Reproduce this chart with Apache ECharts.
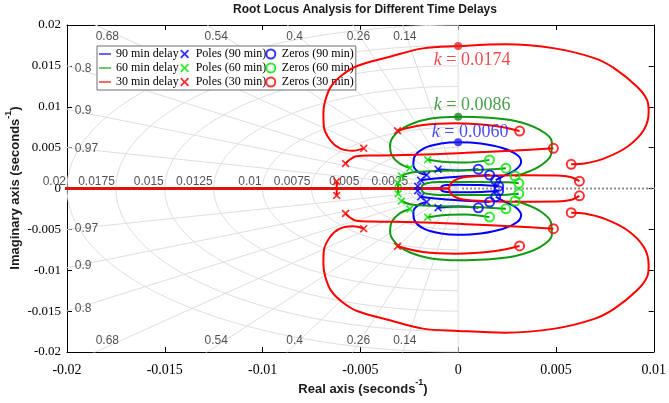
<!DOCTYPE html>
<html>
<head>
<meta charset="utf-8">
<script src="https://cdn.jsdelivr.net/npm/echarts@6/dist/echarts.min.js"></script>
<style>
  html, body { margin: 0; padding: 0; background: #ffffff; }
  #chart { width: 669px; height: 403px; }
</style>
</head>
<body>
<div id="chart"></div>
<script>
// ---------- data (units: seconds^-1, upper half-plane; conjugates are mirrored) ----------
const xTicks = [-0.02, -0.015, -0.01, -0.005, 0, 0.005, 0.01];
const yTicks = [-0.02, -0.015, -0.01, -0.005, 0, 0.005, 0.01, 0.015, 0.02];

// s-plane grid: damping ratios and natural frequencies
const dampingRatios = [0.14, 0.26, 0.4, 0.54, 0.68, 0.8, 0.9, 0.97];
const naturalFreqs = [0.0025, 0.005, 0.0075, 0.01, 0.0125, 0.015, 0.0175, 0.02];
const freqLabels = ['0.0025', '0.005', '0.0075', '0.01', '0.0125', '0.015', '0.0175', '0.02'];

// 30 min delay
const poles30 = [[-0.00621, 0.00085], [-0.00576, 0.00306], [-0.00483, 0.00491], [-0.00310, 0.00707]];
const zeros30 = [[0.00620, 0.00090], [0.00578, 0.00296], [0.00487, 0.00491], [0.00314, 0.00703]];
const loop30 = [[-0.00483, 0.00491], [-0.00537, 0.00462], [-0.00605, 0.00491], [-0.00655, 0.00593],
  [-0.00687, 0.00764], [-0.00689, 0.00923], [-0.00679, 0.01082], [-0.00649, 0.01253], [-0.00593, 0.01388],
  [-0.00517, 0.01498], [-0.00349, 0.01611], [-0.00180, 0.01714], [0, 0.01742], [0.00241, 0.01763],
  [0.00494, 0.01714], [0.00696, 0.01595], [0.00797, 0.01473], [0.00915, 0.01245], [0.00966, 0.01082],
  [0.00974, 0.00935], [0.00949, 0.00715], [0.00865, 0.00511], [0.00747, 0.00369], [0.00646, 0.00306],
  [0.00578, 0.00296]];
const branchA30 = [[-0.00576, 0.00306], [-0.00553, 0.00355], [-0.00521, 0.00394], [-0.00441, 0.00403],
  [-0.00214, 0.00412], [0.00039, 0.00436], [0.00292, 0.00465], [0.00487, 0.00491]];
const branchB30 = [[-0.00310, 0.00707], [-0.00180, 0.00776], [-0.00012, 0.00797], [0.00191, 0.00764], [0.00314, 0.00703]];
const breakIn30 = [[-0.00621, 0.00085], [-0.00621, 0]];
const realAxis30 = [[-0.0212, 0], [-0.00047, 0]];
const nearOrigin30 = [[-0.00047, 0], [-0.00039, 0.00055], [-0.00019, 0.00100], [0.00024, 0.00135],
  [0.00140, 0.00155], [0.00342, 0.00161], [0.00504, 0.00159], [0.00575, 0.00141], [0.00620, 0.00090]];

// 60 min delay
const poles60 = [[-0.00307, 0.00064], [-0.00290, 0.00153], [-0.00247, 0.00251], [-0.00156, 0.00351]];
const zeros60 = [[0.00310, 0.00064], [0.00291, 0.00153], [0.00244, 0.00249], [0.00160, 0.00350]];
const loop60 = [[-0.00247, 0.00251], [-0.00300, 0.00306], [-0.00340, 0.00410], [-0.00348, 0.00532],
  [-0.00315, 0.00678], [-0.00239, 0.00789], [-0.00138, 0.00856], [0, 0.00878], [0.00140, 0.00868],
  [0.00292, 0.00825], [0.00418, 0.00716], [0.00479, 0.00569], [0.00474, 0.00410], [0.00418, 0.00275],
  [0.00342, 0.00189], [0.00291, 0.00153]];
const branchA60 = [[-0.00290, 0.00153], [-0.00239, 0.00196], [-0.00113, 0.00214], [0.00089, 0.00226], [0.00244, 0.00249]];
const branchB60 = [[-0.00156, 0.00351], [-0.00062, 0.00324], [0.00039, 0.00318], [0.00160, 0.00350]];
const breakIn60 = [[-0.00307, 0.00064], [-0.00307, 0]];
const realAxis60 = [[-0.0212, 0], [-0.00190, 0]];
const nearOrigin60 = [[-0.00190, 0], [-0.00182, 0.00040], [-0.00160, 0.00065], [-0.00100, 0.00078],
  [0.00100, 0.00080], [0.00250, 0.00075], [0.00310, 0.00064]];

// 90 min delay
const poles90 = [[-0.00207, 0.00028], [-0.00192, 0.00101], [-0.00161, 0.00165], [-0.00103, 0.00237]];
const zeros90 = [[0.00207, 0.00028], [0.00192, 0.00101], [0.00161, 0.00165], [0.00103, 0.00237]];
const loop90 = [[-0.00161, 0.00165], [-0.00204, 0.00202], [-0.00229, 0.00288], [-0.00224, 0.00385],
  [-0.00173, 0.00495], [-0.00087, 0.00550], [0, 0.00565], [0.00115, 0.00550], [0.00226, 0.00495],
  [0.00302, 0.00410], [0.00322, 0.00324], [0.00292, 0.00226], [0.00231, 0.00153], [0.00192, 0.00101]];
const branchA90 = [[-0.00192, 0.00101], [-0.00062, 0.00134], [0.00161, 0.00165]];
const branchB90 = [[-0.00103, 0.00237], [0, 0.00220], [0.00103, 0.00237]];
const breakIn90 = [[-0.00207, 0.00028], [-0.00207, 0]];
const realAxis90 = [[-0.0212, 0], [-0.00090, 0]];
const nearOrigin90 = [[-0.00090, 0], [-0.00082, 0.00030], [-0.00060, 0.00042], [0, 0.00045],
  [0.00120, 0.00042], [0.00207, 0.00028]];

// imaginary-axis crossings and the gains there
const crossing = [[0, 0.00565], [0, 0.00878], [0, 0.01742]];
const crossingGain = ['0.0060', '0.0086', '0.0174'];

// positive real axis marker line
const positiveAxis = [[0.0002, 0], [0.0105, 0]];

// ---------- styling ----------
const SERIF = '"Liberation Serif", "Times New Roman", serif';
const SANS = '"Liberation Sans", Arial, sans-serif';
const cases = [
  { name: '90 min delay', pole: 'Poles (90 min)', zero: 'Zeros (90 min)', line: '#0000ff', marker: '#0000ff', text: '#1c1cf0',
    poles: poles90, zeros: zeros90, axis: realAxis90, branches: [breakIn90, nearOrigin90, branchA90, branchB90, loop90] },
  { name: '60 min delay', pole: 'Poles (60 min)', zero: 'Zeros (60 min)', line: '#119a11', marker: '#00e600', text: '#1a8a1a',
    poles: poles60, zeros: zeros60, axis: realAxis60, branches: [breakIn60, nearOrigin60, branchA60, branchB60, loop60] },
  { name: '30 min delay', pole: 'Poles (30 min)', zero: 'Zeros (30 min)', line: '#ff0000', marker: '#ff0000', text: '#e82020',
    poles: poles30, zeros: zeros30, axis: realAxis30, branches: [breakIn30, nearOrigin30, branchA30, branchB30, loop30] }
];
const crossOffsets = [[12, -10], [14, -11], [14, 14]];
// horizontal nudges (px) for the damping labels along the top and bottom edges
const dampLabelShift = { 0.14: -2, 0.26: -2, 0.4: -5, 0.54: -9, 0.68: -14 };

const conj = pts => pts.map(p => [p[0], -p[1]]);
const withConj = pts => pts.concat(conj(pts));

const series = [];

// s-plane grid lines
const gridLine = { color: '#dedede', width: 1 };
const R = 0.08;
const rays = [0].concat(dampingRatios);
rays.forEach(z => {
  [1, -1].forEach(s => {
    series.push({ type: 'line', data: [[0, 0], [-R * z, s * R * Math.sqrt(1 - z * z)]], symbol: 'none',
      silent: true, z: 1, lineStyle: gridLine, animation: false });
  });
});
naturalFreqs.forEach(w => {
  const pts = [];
  for (let i = 0; i <= 120; i++) {
    const t = -Math.PI / 2 + Math.PI * i / 120;
    pts.push([-w * Math.cos(t), w * Math.sin(t)]);
  }
  series.push({ type: 'line', data: pts, symbol: 'none', silent: true, z: 1, lineStyle: gridLine, animation: false });
});

// grid labels
const gridText = { show: true, color: '#262626', fontFamily: SANS, fontSize: 12 };
const topY = 0.01857, leftX = -0.0196;
const dampLabelData = [];
dampingRatios.forEach(z => {
  const k = Math.sqrt(1 - z * z) / z;
  if (z < 0.75) {
    const lab = { position: 'inside', offset: [dampLabelShift[z] || 0, 0] };
    dampLabelData.push({ value: [-topY / k, topY], name: String(z), label: lab });
    dampLabelData.push({ value: [-topY / k, -topY], name: String(z), label: lab });
  } else {
    dampLabelData.push({ value: [leftX, -leftX * k], name: String(z), label: { position: 'right', distance: 0 } });
    dampLabelData.push({ value: [leftX, leftX * k], name: String(z), label: { position: 'right', distance: 0 } });
  }
});
series.push({ type: 'scatter', data: dampLabelData, symbolSize: 0, silent: true, clip: false, z: 2,
  label: Object.assign({ formatter: '{b}' }, gridText), animation: false });
series.push({ type: 'scatter', silent: true, clip: false, z: 2, symbolSize: 0, animation: false,
  data: naturalFreqs.map((w, i) => ({ value: [-w, 0], name: freqLabels[i] })),
  label: Object.assign({ formatter: '{b}', position: 'left', distance: 1, offset: [0, -7] }, gridText) });

// positive real axis dotted line
series.push({ type: 'line', data: positiveAxis, symbol: 'none', silent: true, z: 3, animation: false,
  lineStyle: { color: '#8c8c8c', width: 2, type: [2, 2] } });

// root locus branches
cases.forEach((c, ci) => {
  series.push({ name: c.name, type: 'line', data: c.axis, symbol: 'none', z: 4 + ci,
    lineStyle: { color: c.line, width: 2.6 }, itemStyle: { color: c.line }, silent: true, animation: false });
  c.branches.forEach(b => {
    [b, conj(b)].forEach(pts => {
      series.push({ name: c.name, type: 'line', data: pts, symbol: 'none', smooth: 0.35, z: 4 + ci,
        lineStyle: { color: c.line, width: 2 }, itemStyle: { color: c.line }, silent: true, animation: false });
    });
  });
});

// poles and zeros
const xSymbol = 'path://M1.5,0 L5,3.5 L8.5,0 L10,1.5 L6.5,5 L10,8.5 L8.5,10 L5,6.5 L1.5,10 L0,8.5 L3.5,5 L0,1.5 Z';
cases.forEach((c, ci) => {
  series.push({ name: c.pole, type: 'scatter', data: withConj(c.poles), symbol: xSymbol, symbolSize: 8,
    itemStyle: { color: c.marker }, z: 10, silent: true, animation: false });
});
cases.forEach((c, ci) => {
  series.push({ name: c.zero, type: 'scatter', data: withConj(c.zeros), symbol: 'circle', symbolSize: 9,
    itemStyle: { color: 'rgba(0,0,0,0)', borderColor: c.marker, borderWidth: 2 }, z: 10, silent: true, animation: false });
});

// crossing points with their gain labels
series.push({ type: 'scatter', symbol: 'circle', symbolSize: 8, z: 11, silent: true, clip: false, animation: false,
  data: crossing.map((p, i) => ({
    value: p, itemStyle: { color: cases[i].text },
    label: { show: true, position: 'inside', offset: crossOffsets[i], color: cases[i].text,
      formatter: '{k|k} = ' + crossingGain[i],
      fontFamily: SERIF, fontSize: 18,
      rich: { k: { fontFamily: SERIF, fontSize: 18, fontStyle: 'italic', color: cases[i].text } } }
  }))
});

const axisCommon = {
  type: 'value', min: -0.02, max: 0.02, interval: 0.005, splitLine: { show: false },
  axisLine: { show: true, onZero: false, lineStyle: { color: '#000', width: 1 } },
  axisTick: { show: true, inside: true, length: 5, lineStyle: { color: '#000' } }
};
const lineIcon = 'path://M0,4.3 L14,4.3 L14,5.7 L0,5.7 Z';

const option = {
  backgroundColor: '#ffffff',
  animation: false,
  grid: { left: 67, right: 9, top: 25, bottom: 51, containLabel: false },
  xAxis: [
    Object.assign({}, axisCommon, { min: xTicks[0], max: xTicks[xTicks.length - 1], position: 'bottom',
      axisLabel: { margin: 11, fontFamily: SERIF, fontSize: 14, color: '#000' } }),
    Object.assign({}, axisCommon, { min: xTicks[0], max: xTicks[xTicks.length - 1], position: 'top',
      axisLabel: { show: false } })
  ],
  yAxis: [
    Object.assign({}, axisCommon, { min: yTicks[0], max: yTicks[yTicks.length - 1], position: 'left',
      axisLabel: { margin: 6, fontFamily: SERIF, fontSize: 13, color: '#000' } }),
    Object.assign({}, axisCommon, { min: yTicks[0], max: yTicks[yTicks.length - 1], position: 'right',
      axisLabel: { show: false } })
  ],
  legend: {
    orient: 'vertical', left: 97, top: 46, height: 43, padding: [1, 2, 1, 2], itemGap: 0,
    itemWidth: 12, itemHeight: 9, backgroundColor: '#ffffff', borderColor: '#6e6e6e', borderWidth: 1,
    textStyle: { fontFamily: SERIF, fontSize: 12, color: '#000', lineHeight: 14 },
    data: [
      { name: '90 min delay', icon: lineIcon }, { name: '60 min delay', icon: lineIcon }, { name: '30 min delay', icon: lineIcon },
      'Poles (90 min)', 'Poles (60 min)', 'Poles (30 min)', 'Zeros (90 min)', 'Zeros (60 min)', 'Zeros (30 min)']
  },
  graphic: [
    { type: 'text', x: 365, y: 10, style: { text: 'Root Locus Analysis for Different Time Delays',
      font: 'bold 12px ' + SANS, fill: '#1a1a1a', align: 'center', verticalAlign: 'middle' } },
    { type: 'text', x: 363, y: 387, style: { text: '{a|Real axis (seconds}{s|-1}{a|)}', align: 'center', verticalAlign: 'middle',
      rich: { a: { font: 'bold 13px ' + SANS, fill: '#1a1a1a', lineHeight: 18, verticalAlign: 'bottom' },
              s: { font: 'bold 9px ' + SANS, fill: '#1a1a1a', lineHeight: 10, verticalAlign: 'top' } } } },
    { type: 'text', x: 13, y: 188, rotation: Math.PI / 2, style: { text: '{a|Imaginary axis (seconds}{s|-1}{a|)}',
      align: 'center', verticalAlign: 'middle',
      rich: { a: { font: 'bold 13px ' + SANS, fill: '#1a1a1a', lineHeight: 18, verticalAlign: 'bottom' },
              s: { font: 'bold 9px ' + SANS, fill: '#1a1a1a', lineHeight: 10, verticalAlign: 'top' } } } }
  ],
  series: series
};

const chart = echarts.init(document.getElementById('chart'), null, { renderer: 'canvas' });
chart.setOption(option);
</script>
</body>
</html>
